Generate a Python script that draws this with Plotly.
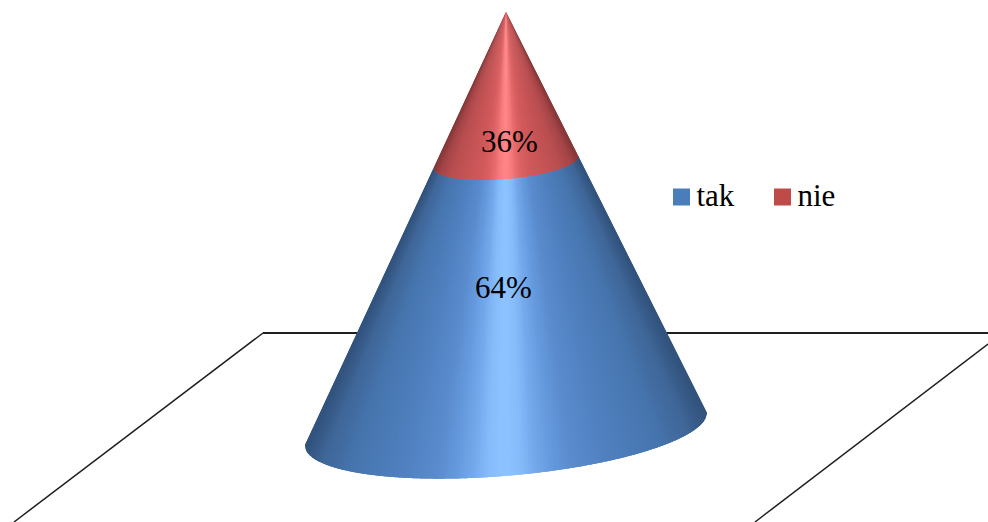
import numpy as np
import plotly.graph_objects as go

# Survey result, stacked from the base of the cone upward
categories = ["tak", "nie"]
values = [64, 36]
labels = ["64%", "36%"]
legend_colors = ["#4A7EBB", "#BE4B48"]

# Shading ramps: offset from the axis of the cone (0 = centre, 1 = silhouette) -> colour
shade_stops = [0.0, 0.07, 0.14, 0.22, 0.32, 0.5, 0.75, 0.9, 1.0]
shade_tak = ["#8DC3FF", "#86BBFA", "#74A9EC", "#669BDF", "#5A8CCE", "#5080BF", "#4675AE", "#3F6698", "#2F4F78"]
shade_nie = ["#FF8587", "#F87C7E", "#E86C6E", "#DC6163", "#D25A5C", "#C85557", "#B94E50", "#A44547", "#803536"]

# Cone projection, in canvas units
APEX = np.array([506.0, 12.0])
BASE = np.array([506.0, 429.0])
MAJOR = np.array([201.0, -16.0])
MINOR = np.array([-2.0, 47.0])
STRIPS = 160

# Floor outline behind the cone
floor_back_x, floor_back_y = [263, 988], [333, 333]
floor_left_x, floor_left_y = [263, 14], [333, 522]
floor_right_x, floor_right_y = [988, 755], [344, 522]

# Label and legend anchors
label_x, label_y = [503.5, 509.5], [290, 144]
legend_x, legend_y = [681.5, 782.5], [197, 197]
legend_text_x, legend_text_y = [696.5, 797.5], [198, 198]


def hex_rgb(c):
    return np.array([int(c[i:i + 2], 16) for i in (1, 3, 5)], dtype=float)


def shade(ramp, s):
    rgb = [np.interp(abs(s), shade_stops, [hex_rgb(c)[k] for c in ramp]) for k in range(3)]
    return "rgb(%d,%d,%d)" % tuple(round(v) for v in rgb)


def ring_point(frac, c):
    """Point on the front of the cone at a height fraction from the apex."""
    sin_t = np.sqrt(np.clip(1 - c * c, 0, 1))
    return APEX + frac * (BASE - APEX) + frac * (MAJOR * c + MINOR * sin_t)


fig = go.Figure()

for xs, ys, w in [(floor_back_x, floor_back_y, 2.0),
                  (floor_left_x, floor_left_y, 1.5),
                  (floor_right_x, floor_right_y, 1.5)]:
    fig.add_shape(type="line", xref="x", yref="y", layer="below",
                  x0=xs[0], y0=ys[0], x1=xs[1], y1=ys[1],
                  line=dict(color="#1F1F1F", width=w))

total = sum(values)
split = values[1] / total
bands = [(split, 1.0, shade_tak), (0.0, split, shade_nie)]
edges = np.linspace(-1, 1, STRIPS + 1)
step = edges[1] - edges[0]

# Strips overlap their neighbours and the centre strips paint last, which hides seams
strips = sorted(zip(edges[:-1], edges[1:]), key=lambda e: -abs(e[0] + e[1]))
for f_top, f_bot, ramp in bands:
    for c0, c1 in strips:
        mid = (c0 + c1) / 2
        a = max(c0 - step, -1) if mid < 0 else c0 - 0.4 * step
        b = min(c1 + step, 1) if mid > 0 else c1 + 0.4 * step
        arc = np.linspace(a, b, 5)
        top = [ring_point(f_top, c) for c in arc]
        bot = [ring_point(f_bot, c) for c in arc[::-1]]
        pts = np.array(top + bot + [top[0]])
        fig.add_trace(go.Scatter(x=pts[:, 0], y=pts[:, 1], mode="none", fill="toself",
                                 fillcolor=shade(ramp, mid),
                                 showlegend=False, hoverinfo="skip"))

fig.add_trace(go.Scatter(x=label_x, y=label_y, mode="text", text=labels,
                         textfont=dict(family="Liberation Serif", size=31, color="#000000"),
                         showlegend=False, hoverinfo="skip"))

for x, y, color in zip(legend_x, legend_y, legend_colors):
    fig.add_trace(go.Scatter(x=[x], y=[y], mode="markers",
                             marker=dict(symbol="square", size=17, color=color),
                             showlegend=False, hoverinfo="skip"))

fig.add_trace(go.Scatter(x=legend_text_x, y=legend_text_y, mode="text", text=categories,
                         textposition="middle right",
                         textfont=dict(family="Liberation Serif", size=31, color="#000000"),
                         showlegend=False, hoverinfo="skip"))

fig.update_layout(
    width=988, height=522, margin=dict(l=0, r=0, t=0, b=0),
    paper_bgcolor="white", plot_bgcolor="white", showlegend=False,
    xaxis=dict(range=[0, 988], visible=False, fixedrange=True),
    yaxis=dict(range=[522, 0], visible=False, fixedrange=True),
)

fig.write_html("out.html", config=dict(displayModeBar=False))
